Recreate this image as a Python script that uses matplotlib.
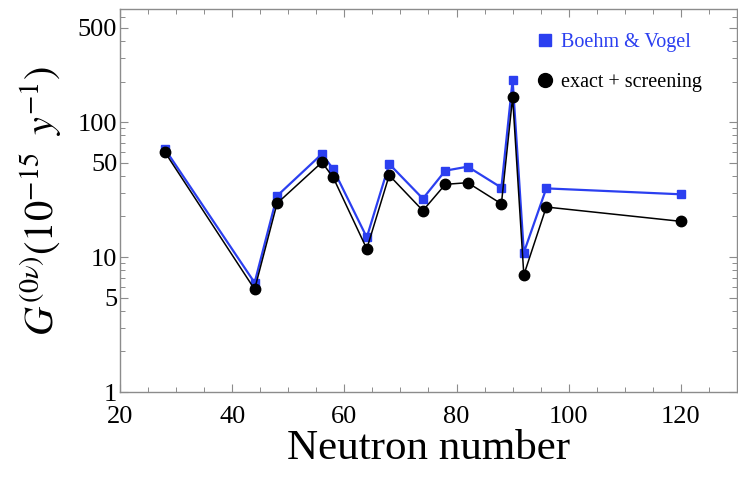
import matplotlib
matplotlib.use("Agg")
import matplotlib.pyplot as plt
from matplotlib.lines import Line2D
from matplotlib.ticker import LogLocator, FixedLocator, FixedFormatter, MultipleLocator

plt.rcParams['font.family'] = ['Liberation Serif', 'DejaVu Serif']
plt.rcParams['mathtext.fontset'] = 'stix'

# neutron numbers of the double-beta emitters
neutrons = [28, 44, 48, 56, 58, 64, 68, 74, 78, 82, 88, 90, 92, 96, 120]

# phase-space factors, units of 1e-15 / yr
boehm_vogel = [63.3, 6.46, 28.4, 58.1, 45.0, 14.0, 49.0, 27.1, 43.7, 46.8, 32.7, 205.0, 10.8, 32.3, 29.2]
exact_screening = [60.0, 5.77, 25.0, 50.4, 39.0, 11.5, 40.4, 22.1, 34.6, 35.6, 24.8, 153.0, 7.37, 23.5, 18.4]

y_ticks = [1, 5, 10, 50, 100, 500]
x_ticks = [20, 40, 60, 80, 100, 120]

blue = '#2b3ff0'
frame = '#8c8c8c'

fig = plt.figure(figsize=(7.38, 4.8), dpi=100)
ax = fig.add_axes([0.1626, 0.1833, 0.836, 0.798])

ax.plot(neutrons, boehm_vogel, color=blue, lw=1.6, marker='s', ms=6, mec=blue, mfc=blue, zorder=2)
ax.plot(neutrons, exact_screening, color='black', lw=1.1, marker='o', ms=7.5, zorder=3)

ax.set_yscale('log')
ax.set_xlim(20, 130)
ax.set_ylim(1, 690)

ax.yaxis.set_major_locator(FixedLocator(y_ticks))
ax.yaxis.set_major_formatter(FixedFormatter([str(v) for v in y_ticks]))
ax.yaxis.set_minor_locator(LogLocator(base=10, subs=[2, 3, 4, 6, 7, 8, 9]))
ax.yaxis.set_minor_formatter(FixedFormatter([]))
ax.xaxis.set_major_locator(FixedLocator(x_ticks))
ax.xaxis.set_minor_locator(MultipleLocator(5))

for s in ax.spines.values():
    s.set_color(frame)
    s.set_linewidth(1.0)
ax.tick_params(which='both', direction='in', top=True, right=True, color=frame)
ax.tick_params(which='major', length=6, width=0.8, labelsize=19, pad=2)
ax.tick_params(axis='x', which='major', pad=10)
ax.tick_params(which='minor', length=3.5, width=0.7)

ax.set_xlabel('Neutron number', fontsize=31, labelpad=1)
ax.set_ylabel(r'$G^{(0\nu)}(10^{-15}\;\;y^{-1})$', fontsize=29, labelpad=10)

handles = [
    Line2D([], [], ls='none', marker='s', ms=8, color=blue),
    Line2D([], [], ls='none', marker='o', ms=10, color='black'),
]
ax.legend(handles, ['Boehm & Vogel', 'exact + screening'], loc='upper left',
          bbox_to_anchor=(0.66, 0.965), frameon=False, fontsize=14.5,
          handlelength=0.8, handletextpad=0.4, labelspacing=1.05, borderpad=0,
          labelcolor=[blue, 'black'])

fig.savefig('out.png', dpi=100)
